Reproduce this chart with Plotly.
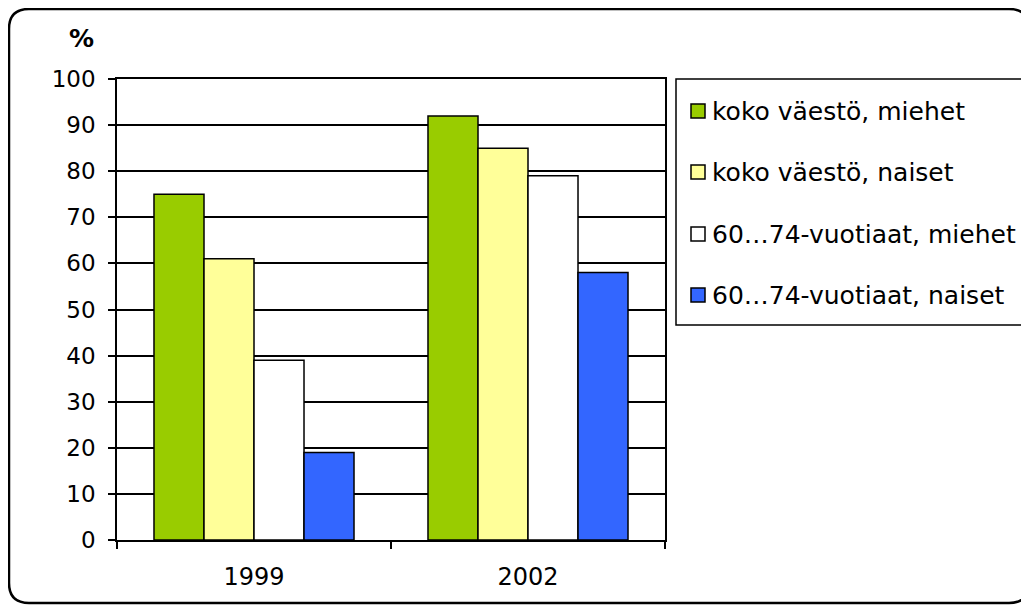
import plotly.graph_objects as go

years = ["1999", "2002"]
series_names = ["koko väestö, miehet", "koko väestö, naiset",
                "60…74-vuotiaat, miehet", "60…74-vuotiaat, naiset"]
miehet_all = [75, 92]
naiset_all = [61, 85]
miehet_60 = [39, 79]
naiset_60 = [19, 58]
values = [miehet_all, naiset_all, miehet_60, naiset_60]
colors = ["#99CC00", "#FFFF99", "#FFFFFF", "#3366FF"]
y_ticks = list(range(0, 101, 10))

OFF = 8  # default page body margin
W, H = 1029 - OFF, 606 - OFF
L, R, T, B = 117 - OFF, 665 - OFF, 79 - OFF, 540 - OFF
FONT = "DejaVu Sans, Liberation Sans, Arial, sans-serif"

fig = go.Figure()
for name, vals, col in zip(series_names, values, colors):
    fig.add_trace(go.Bar(
        x=years, y=vals, name=name, showlegend=False,
        marker=dict(color=col, line=dict(color="black", width=1.5)),
    ))


def px(x):
    """page pixel x -> paper"""
    return (x - OFF - L) / (R - L)


def py(y):
    """page pixel y -> paper"""
    return (B - (y - OFF)) / (B - T)


shapes = []
# outer rounded border (right side runs off the picture)
x0, x1, y0, y1, r = 9, 1029, 9, 603, 20
path = (f"M {px(x0+r)} {py(y0)} L {px(x1-r)} {py(y0)} "
        f"Q {px(x1)} {py(y0)} {px(x1)} {py(y0+r)} "
        f"L {px(x1)} {py(y1-r)} Q {px(x1)} {py(y1)} {px(x1-r)} {py(y1)} "
        f"L {px(x0+r)} {py(y1)} Q {px(x0)} {py(y1)} {px(x0)} {py(y1-r)} "
        f"L {px(x0)} {py(y0+r)} Q {px(x0)} {py(y0)} {px(x0+r)} {py(y0)} Z")
shapes.append(dict(type="path", xref="paper", yref="paper", path=path,
                   line=dict(color="black", width=2.5),
                   fillcolor="rgba(0,0,0,0)", layer="below"))

# legend box
shapes.append(dict(type="rect", xref="paper", yref="paper",
                   x0=px(676), x1=px(1022), y0=py(79), y1=py(325),
                   line=dict(color="black", width=1.5), fillcolor="white",
                   layer="below"))

annotations = [dict(text="<b>%</b>", xref="paper", yref="paper",
                    x=px(81), y=py(38), showarrow=False,
                    font=dict(size=25, family=FONT),
                    xanchor="center", yanchor="middle")]

row_y = [111, 172, 234, 295]
for name, col, ry in zip(series_names, colors, row_y):
    shapes.append(dict(type="rect", xref="paper", yref="paper",
                       x0=px(691), x1=px(705), y0=py(ry - 7), y1=py(ry + 7),
                       line=dict(color="black", width=1.5), fillcolor=col))
    annotations.append(dict(text=name, xref="paper", yref="paper",
                            x=px(710), y=py(ry), showarrow=False,
                            xanchor="left", yanchor="middle",
                            font=dict(size=25, family=FONT)))

fig.update_layout(
    width=W, height=H,
    margin=dict(l=L, r=W - R, t=T, b=H - B, autoexpand=False),
    paper_bgcolor="white", plot_bgcolor="white",
    font=dict(family=FONT, size=23, color="black"),
    barmode="group", bargap=0.27, bargroupgap=0,
    showlegend=False,
    shapes=shapes,
    annotations=annotations,
)
fig.update_xaxes(
    showline=True, linecolor="black", linewidth=1.5, mirror=True,
    ticks="outside", ticklen=7, tickcolor="black", tickwidth=1.5,
    tickson="boundaries", showgrid=False, tickfont=dict(size=24),
    ticklabelstandoff=14,
)
fig.update_yaxes(
    range=[0, 100], tickvals=y_ticks, showline=True, linecolor="black",
    linewidth=1.5, mirror=True, ticks="outside", ticklen=7, tickcolor="black",
    tickwidth=1.5, showgrid=True, gridcolor="black", gridwidth=1.5,
    zeroline=False, tickfont=dict(size=23), ticklabelstandoff=8,
)

fig.write_html("out.html")
